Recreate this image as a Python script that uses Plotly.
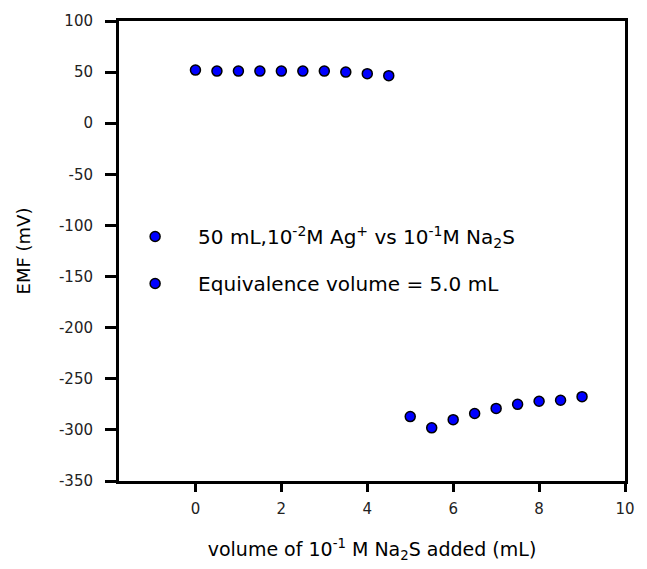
import plotly.graph_objects as go

# Data
vol_before = [0, 0.5, 1.0, 1.5, 2.0, 2.5, 3.0, 3.5, 4.0, 4.5]
emf_before = [52, 51, 51, 51, 51, 51, 51, 50, 48.5, 46.5]
vol_after = [5.0, 5.5, 6.0, 6.5, 7.0, 7.5, 8.0, 8.5, 9.0]
emf_after = [-287, -298, -290, -284, -279, -275, -272, -271, -267.5]

series_names = [
    "50 mL,10<sup>-2</sup>M Ag<sup>+</sup> vs 10<sup>-1</sup>M Na<sub>2</sub>S",
    "Equivalence volume = 5.0 mL",
]
x_ticks = [0, 2, 4, 6, 8, 10]
x_ticktext = ["0", "2", "4", "6", "8", "10"]
y_ticks = [100, 50, 0, -50, -100, -150, -200, -250, -300, -350]
y_ticktext = ["100", "50", "0", "-50", "-100", "-150", "-200", "-250", "-300", "-350"]

FONT = "DejaVu Sans"
marker = dict(color="#0000FF", size=10, line=dict(color="black", width=1.5))

fig = go.Figure()
fig.add_trace(go.Scatter(x=vol_before, y=emf_before, mode="markers",
                         marker=marker, name=series_names[0], legendgroup="a"))
fig.add_trace(go.Scatter(x=vol_after, y=emf_after, mode="markers",
                         marker=marker, name=series_names[1], legendgroup="b"))

axis_common = dict(showline=True, linecolor="black", linewidth=3, mirror=True,
                   ticks="outside", tickcolor="black", tickwidth=3,
                   showgrid=False, zeroline=False,
                   tickfont=dict(family=FONT, size=15, color="#222"))

fig.update_layout(
    width=647, height=569,
    margin=dict(l=119, r=12, t=19, b=85),
    plot_bgcolor="white", paper_bgcolor="white",
    font=dict(family=FONT, color="black"),
    xaxis=dict(range=[-1.78, 10], tickvals=x_ticks, ticktext=x_ticktext, ticklen=8,
               ticklabelstandoff=4,
               title=dict(text="volume of 10<sup>-1</sup> M Na<sub>2</sub>S added (mL)",
                          font=dict(family=FONT, size=19), standoff=26),
               **axis_common),
    yaxis=dict(range=[-350, 100], tickvals=y_ticks, ticktext=y_ticktext, ticklen=11,
               ticklabelstandoff=9,
               title=dict(text="EMF (mV)", font=dict(family=FONT, size=18), standoff=24),
               **axis_common),
    legend=dict(x=-0.0136, y=0.574, xanchor="left", yanchor="top",
                font=dict(family=FONT, size=20),
                traceorder="grouped", tracegroupgap=18, itemwidth=76,
                bgcolor="rgba(0,0,0,0)"),
    showlegend=True,
)

fig.write_html("out.html")
